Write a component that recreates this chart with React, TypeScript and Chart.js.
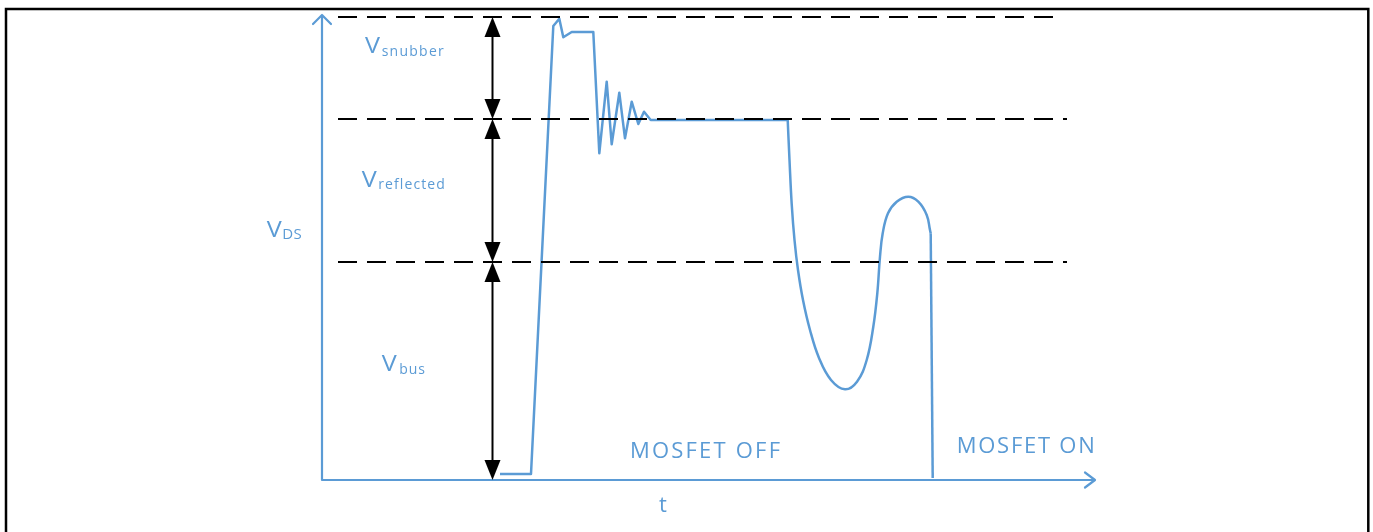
import { useEffect, useRef } from 'react';
import { Chart, registerables } from 'chart.js';

Chart.register(...registerables);

// ---------- data (t and V in arbitrary units) ----------
const T_MAX = 773;
const V_MAX = 465;

// turn-off edge, snubber spike and ringing, plateau
const stepT = [178, 209, 231.3, 237.3, 241.3, 249.7, 271.3, 277.3, 284.7, 289.7, 297.3, 303, 309.7, 316.3, 322, 328.7, 465.7];
const stepV = [6, 6, 454, 461.3, 442.7, 448, 448, 326.7, 398.3, 335.7, 387.3, 341.7, 378.3, 356, 368.3, 360, 360];

// resonant valley after demagnetisation
const curveT = [465.7, 467.5, 469.7, 472.5, 476, 481, 488, 497, 509, 523, 535, 544.7, 551.3, 555.3, 558, 560.7, 566, 574.7, 586.3, 596.3, 604.7, 608, 608.7];
const curveV = [360, 320, 276, 240, 210, 180, 150, 122, 100, 90.7, 98.3, 120, 153.3, 186.7, 223.3, 246.7, 266.7, 278.3, 283.3, 278.3, 265, 250, 246.7];

// MOSFET turn-on
const fallT = [608.7, 610.7];
const fallV = [246.7, 2];

// reference levels (Vbus, Vbus+Vreflected, +Vsnubber)
const levelV = [463, 361, 218];
const levelEndT = [733, 745, 745];
const levelStartT = 16;

// double arrows between levels
const arrowT = 170.5;
const arrowV = [463, 361, 218, 0];

const BLUE = '#5B9BD5';
const FONT = '"Open Sans", "DejaVu Sans", sans-serif';

type Label = { main: string; sub: string; t: number; v: number; size: number; subSize: number; subDx: number; subDy: number; subW: number; mainW?: number };
const labels: Label[] = [
  { main: 'V', sub: 'snubber', t: 43, v: 427, size: 21, subSize: 14, subDx: 16.7, subDy: 3, subW: 62, mainW: 15 },
  { main: 'V', sub: 'reflected', t: 39.7, v: 293.3, size: 21, subSize: 14, subDx: 16.6, subDy: 2.5, subW: 66.5, mainW: 15 },
  { main: 'V', sub: 'DS', t: -55.3, v: 242.7, size: 21, subSize: 15, subDx: 15.6, subDy: 2, subW: 19.4, mainW: 15 },
  { main: 'V', sub: 'bus', t: 59.7, v: 109.3, size: 21, subSize: 14, subDx: 17.6, subDy: 3.3, subW: 25.7, mainW: 15 },
];
const plainLabels = [
  { text: 'MOSFET OFF', t: 308, v: 21.7, size: 22, w: 150 },
  { text: 'MOSFET ON', t: 634.7, v: 27, size: 22, w: 138 },
  { text: 't', t: 337, v: -31.7, size: 22, w: 0 },
];

const pts = (xs: number[], ys: number[]) => xs.map((x, i) => ({ x, y: ys[i] }));

function fitText(ctx: CanvasRenderingContext2D, text: string, x: number, y: number, size: number, w: number) {
  ctx.font = `${size}px ${FONT}`;
  const m = ctx.measureText(text).width;
  let ls = 0;
  if (w > 0 && text.length > 1) ls = (w - m) / (text.length - 1);
  (ctx as any).letterSpacing = `${ls}px`;
  ctx.fillText(text, x, y);
  (ctx as any).letterSpacing = '0px';
}

const overlay = {
  id: 'overlay',
  beforeDraw(chart: any) {
    const ctx: CanvasRenderingContext2D = chart.ctx;
    ctx.save();
    ctx.fillStyle = '#fff';
    ctx.fillRect(0, 0, chart.width, chart.height);
    ctx.strokeStyle = '#000';
    ctx.lineWidth = 2.5;
    ctx.beginPath();
    ctx.moveTo(6, chart.height + 2);
    ctx.lineTo(6, 9);
    ctx.lineTo(1368.3, 9);
    ctx.lineTo(1368.3, chart.height + 2);
    ctx.stroke();
    ctx.restore();
  },
  afterDatasetsDraw(chart: any) {
    const ctx: CanvasRenderingContext2D = chart.ctx;
    const xs = chart.scales.x;
    const ys = chart.scales.y;
    const X = (t: number) => xs.getPixelForValue(t);
    const Y = (v: number) => ys.getPixelForValue(v);
    ctx.save();

    // axes with open arrow heads
    ctx.strokeStyle = BLUE;
    ctx.lineWidth = 2.2;
    ctx.lineCap = 'round';
    ctx.lineJoin = 'round';
    const x0 = X(0), y0 = Y(0), yTop = Y(V_MAX), xEnd = X(T_MAX);
    ctx.beginPath();
    ctx.moveTo(x0, y0);
    ctx.lineTo(x0, yTop);
    ctx.moveTo(x0 - 9, yTop + 9);
    ctx.lineTo(x0, yTop);
    ctx.lineTo(x0 + 9, yTop + 9);
    ctx.moveTo(x0, y0);
    ctx.lineTo(xEnd, y0);
    ctx.moveTo(xEnd - 10, y0 - 7.5);
    ctx.lineTo(xEnd, y0);
    ctx.lineTo(xEnd - 10, y0 + 7.5);
    ctx.stroke();

    // double-headed arrows
    ctx.strokeStyle = '#000';
    ctx.fillStyle = '#000';
    ctx.lineWidth = 2;
    ctx.lineCap = 'butt';
    const ax = X(arrowT);
    for (let i = 0; i < arrowV.length - 1; i++) {
      const a = Y(arrowV[i]);
      const b = Y(arrowV[i + 1]);
      ctx.beginPath();
      ctx.moveTo(ax, a + 10);
      ctx.lineTo(ax, b - 10);
      ctx.stroke();
      ctx.beginPath();
      ctx.moveTo(ax, a);
      ctx.lineTo(ax - 8, a + 20);
      ctx.lineTo(ax + 8, a + 20);
      ctx.closePath();
      ctx.fill();
      ctx.beginPath();
      ctx.moveTo(ax, b);
      ctx.lineTo(ax - 8, b - 20);
      ctx.lineTo(ax + 8, b - 20);
      ctx.closePath();
      ctx.fill();
    }

    // labels
    ctx.fillStyle = BLUE;
    ctx.textBaseline = 'alphabetic';
    ctx.textAlign = 'left';
    for (const l of labels) {
      const x = X(l.t), y = Y(l.v);
      ctx.save();
      ctx.font = `${l.size}px ${FONT}`;
      const mw = ctx.measureText(l.main).width;
      const sx = l.mainW ? l.mainW / mw : 1;
      ctx.translate(x, y);
      ctx.scale(sx, 1);
      ctx.fillText(l.main, 0, 0);
      ctx.restore();
      fitText(ctx, l.sub, x + l.subDx, y + l.subDy, l.subSize, l.subW);
    }
    for (const p of plainLabels) {
      fitText(ctx, p.text, X(p.t), Y(p.v), p.size, p.w);
    }
    ctx.restore();
  },
};

export default function App() {
  const ref = useRef<HTMLCanvasElement>(null);
  useEffect(() => {
    if (!ref.current) return;
    const dashed = levelV.map((v, i) => ({
      data: [{ x: levelStartT, y: v }, { x: levelEndT[i], y: v }],
      borderColor: '#000',
      borderWidth: 2.2,
      borderDash: [19, 10],
      pointRadius: 0,
      tension: 0,
      order: 0,
    }));
    const chart = new Chart(ref.current, {
      type: 'line',
      data: {
        datasets: [
          ...dashed,
          { data: pts(stepT, stepV), borderColor: BLUE, borderWidth: 2.5, pointRadius: 0, tension: 0, order: 1, borderJoinStyle: 'round' },
          { data: pts(curveT, curveV), borderColor: BLUE, borderWidth: 2.5, pointRadius: 0, tension: 0.4, order: 1 },
          { data: pts(fallT, fallV), borderColor: BLUE, borderWidth: 2.5, pointRadius: 0, tension: 0, order: 1 },
        ] as any,
      },
      options: {
        responsive: false,
        animation: false,
        parsing: false,
        normalized: true,
        layout: { padding: { left: 322, right: 278, top: 15, bottom: 52 } },
        scales: {
          x: { type: 'linear', min: 0, max: T_MAX, display: false },
          y: { type: 'linear', min: 0, max: V_MAX, display: false },
        },
        plugins: { legend: { display: false }, tooltip: { enabled: false } },
        events: [],
      } as any,
      plugins: [overlay],
    });
    return () => chart.destroy();
  }, []);
  return (
    <div style={{ position: 'fixed', left: 0, top: 0, width: 1373, height: 532, background: '#fff' }}>
      <canvas ref={ref} width={1373} height={532} style={{ display: 'block', width: 1373, height: 532 }} />
    </div>
  );
}
